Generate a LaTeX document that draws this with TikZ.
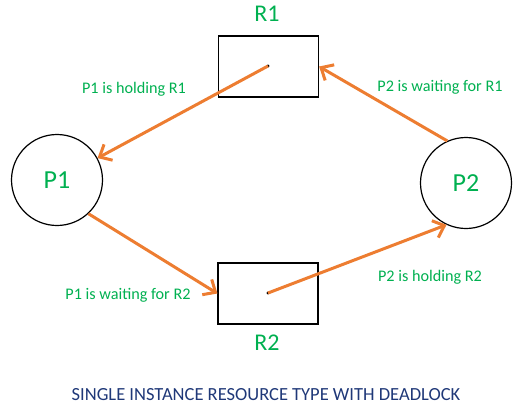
\documentclass[tikz,border=0pt]{standalone}
\usepackage{fontspec}
\setmainfont{Carlito}
\usepackage{xcolor}
\usepackage{tikz}
\usetikzlibrary{arrows.meta}
\definecolor{edgeorange}{RGB}{237,125,49}
\definecolor{lblgreen}{RGB}{0,176,80}
\definecolor{capblue}{RGB}{31,56,120}

\begin{document}
\begin{tikzpicture}[x=1pt,y=-1pt,
  proc/.style={draw,circle,line width=1.2pt,minimum size=91pt,inner sep=0pt,
    text=lblgreen,font=\fontsize{26}{26}\selectfont},
  res/.style={draw,rectangle,line width=1.2pt,minimum width=100pt,minimum height=61pt,inner sep=0pt},
  reslbl/.style={text=lblgreen,font=\fontsize{24}{24}\selectfont},
  lbl/.style={text=lblgreen,font=\fontsize{16.2}{16.2}\selectfont},
  edge/.style={draw=edgeorange,line width=3pt,-{Straight Barb[length=10pt,width=18pt,line width=3pt]}}]
\useasboundingbox (0,0) rectangle (523,408);
  \node[proc] (P1) at (57,180) {P1};
  \node[proc] (P2) at (466,183) {P2};
  \node[res] (R1) at (268.5,66.5) {};
  \node[res] (R2) at (268,293.5) {};
  \node[reslbl] (R1lbl) at (267,14) {R1};
  \node[reslbl] (R2lbl) at (267,343) {R2};
  \coordinate (R1dot) at (268,66);
  \coordinate (R2dot) at (268,293);
  \fill (R1dot) circle (1.6pt);
  \fill (R2dot) circle (1.6pt);
  % edges
  \draw[edge] (R1dot) -- (P1);
  \draw[edge] (P1.-47) -- (R2.west);
  \draw[edge] (R2dot) -- (P2.245);
  \draw[edge] (P2.114) -- (R1.east);
  \node[lbl] (holdR1) at (134,89) {P1 is holding R1};
  \node[lbl] (waitR2) at (128,295) {P1 is waiting for R2};
  \node[lbl] (waitR1) at (440,87) {P2 is waiting for R1};
  \node[lbl] (holdR2) at (430,277) {P2 is holding R2};
  \node[text=capblue,font=\fontsize{18.5}{18.5}\selectfont] (caption) at (266,395)
    {SINGLE INSTANCE RESOURCE TYPE WITH DEADLOCK};
\end{tikzpicture}
\end{document}
